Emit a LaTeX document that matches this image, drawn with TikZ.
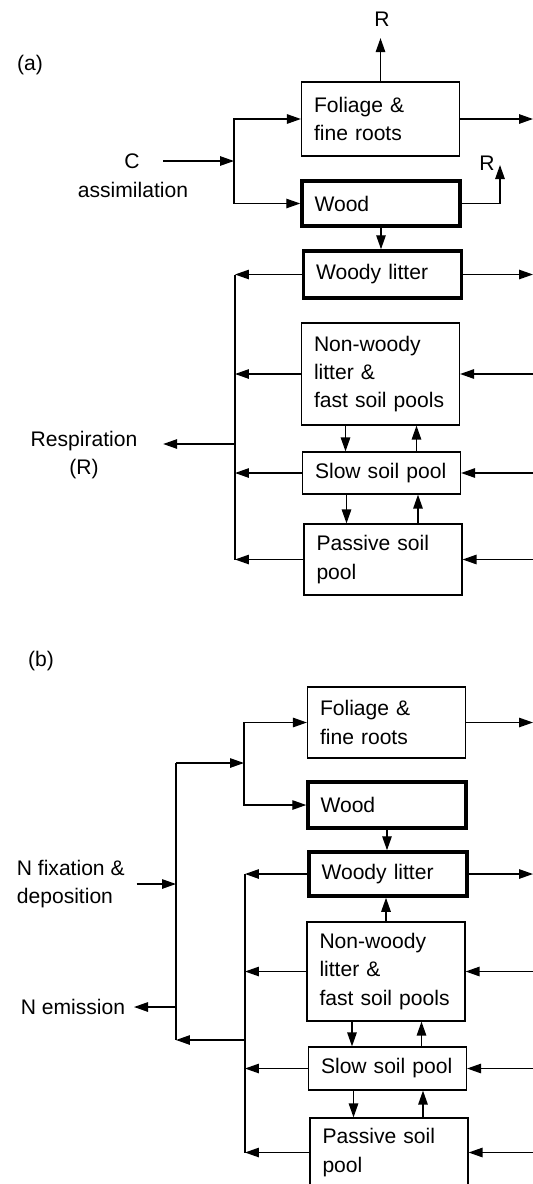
\documentclass[tikz,border=0pt]{standalone}
\usepackage{fontspec}
\setmainfont{Liberation Sans}
\usetikzlibrary{arrows.meta}

\begin{document}
\begin{tikzpicture}[x=0.02cm, y=-0.02cm]
		\tikzset{
			every node/.style={
				font=\fontsize{12}{16}\selectfont,
				inner sep=2pt
			},
			pool/.style={
				draw,
				rectangle,
				line width=0.7pt,
				align=left,
				text width=2.66cm,
				inner xsep=0.25cm,
				inner ysep=0pt
			},
			woody/.style={
				pool,
				line width=2pt
			},
			line/.style={
				-{Triangle[length=0.28cm, width=0.19cm]},
				line width=0.75pt
			},
			wire/.style={
				line width=0.75pt
			}
		}

		\useasboundingbox (0, 0) rectangle (532, 1184);

		\coordinate (rim) at (533, 0);

		\node (tag-a) at (30, 65)
			{(a)};
		\node[pool, minimum height=1.48cm] (fol-a) at (380.5, 119)
			{Foliage \&\\fine roots};
		\node[woody, minimum height=0.9cm] (wood-a) at (381, 203.5)
			{Wood};
		\node[woody, minimum height=0.94cm] (wlit-a) at (382.5, 274.5)
			{Woody litter};
		\node[pool, minimum height=2.04cm] (nw-a) at (380.5, 374)
			{Non-woody\\litter \&\\fast soil pools};
		\node[pool, minimum height=0.84cm] (slow-a) at (381.5, 473)
			{Slow soil pool};
		\node[pool, minimum height=1.42cm] (pas-a) at (383, 559.5)
			{Passive soil\\pool};

		\node (r1-a) at (382, 19)
			{R};
		\node (r2-a) at (487, 163)
			{R};
		\node (c-a) at (132, 161)
			{C};
		\node (assim-a) at (133, 190)
			{assimilation};
		\node[align=center] (resp-a) at (84, 455)
			{Respiration\\(R)};

		\coordinate (jc-a) at (234, 161);
		\coordinate (rtip-a) at (500, 165);
		\coordinate (col-a) at (235, 444);

		\draw[line, shorten >=0.16cm] (fol-a.north) -- (fol-a.north |- r1-a.south);
		\draw[line] (fol-a) -- (fol-a -| rim);

		\draw[line, shorten <=0.4cm] (c-a) -- (jc-a);
		\draw[line] (jc-a) |- (fol-a);
		\draw[line] (jc-a) |- (wood-a);
		\draw[line] (wood-a) -| (rtip-a);
		\draw[line] (wood-a.south) -- (wood-a.south |- wlit-a.north);

		\draw[line] (wlit-a) -- (wlit-a -| rim);
		\draw[line] (wlit-a) -- (wlit-a -| col-a);
		\draw[line] (nw-a) -- (nw-a -| col-a);
		\draw[line] (slow-a) -- (slow-a -| col-a);
		\draw[line] (pas-a) -- (pas-a -| col-a);
		\draw[wire] (wlit-a -| col-a) -- (pas-a -| col-a);
		\draw[line, shorten >=0.44cm] (col-a) -- (col-a -| resp-a.east);

		\draw[line] (nw-a -| rim) -- (nw-a);
		\draw[line] (slow-a -| rim) -- (slow-a);
		\draw[line] (pas-a -| rim) -- (pas-a);

		\draw[line] ([xshift=-0.7cm]nw-a.south) -- ([xshift=-0.7cm]nw-a.south |- slow-a.north);
		\draw[line] ([xshift=0.7cm]slow-a.north) -- ([xshift=0.7cm]slow-a.north |- nw-a.south);
		\draw[line] ([xshift=-0.7cm]slow-a.south) -- ([xshift=-0.7cm]slow-a.south |- pas-a.north);
		\draw[line] ([xshift=0.7cm]pas-a.north) -- ([xshift=0.7cm]pas-a.north |- slow-a.south);

		\node (tag-b) at (41, 661)
			{(b)};
		\node[pool, minimum height=1.42cm] (fol-b) at (386.5, 722.5)
			{Foliage \&\\fine roots};
		\node[woody, minimum height=0.92cm] (wood-b) at (387, 805)
			{Wood};
		\node[woody, minimum height=0.88cm] (wlit-b) at (388, 874)
			{Woody litter};
		\node[pool, minimum height=1.98cm] (nw-b) at (386, 971.5)
			{Non-woody\\litter \&\\fast soil pools};
		\node[pool, minimum height=0.86cm] (slow-b) at (387.5, 1068.5)
			{Slow soil pool};
		\node[pool, minimum height=1.38cm] (pas-b) at (389, 1152.5)
			{Passive soil\\pool};

		\node[anchor=west, align=left] (nfix-b) at (13, 884)
			{N fixation \&\\deposition};
		\node (nemis-b) at (73, 1007)
			{N emission};

		\coordinate (jc-b) at (244, 763);
		\coordinate (top-b) at (176, 763);
		\coordinate (col-b) at (245, 1040);
		\coordinate (bot-b) at (176, 1040);

		\draw[line] (top-b) -- (jc-b);
		\draw[line] (jc-b) |- (fol-b);
		\draw[line] (jc-b) |- (wood-b);
		\draw[wire] (top-b) -- (bot-b);
		\draw[line, shorten <=0.16cm] (nfix-b) -- (nfix-b -| top-b);
		\draw[line, shorten >=0.1cm] (nemis-b -| top-b) -- (nemis-b);
		\draw[line] (col-b) -- (bot-b);

		\draw[line] (fol-b) -- (fol-b -| rim);
		\draw[line] (wood-b.south) -- (wood-b.south |- wlit-b.north);
		\draw[line] (nw-b.north) -- (nw-b.north |- wlit-b.south);

		\draw[line] (wlit-b) -- (wlit-b -| rim);
		\draw[line] (wlit-b) -- (wlit-b -| col-b);
		\draw[line] (nw-b) -- (nw-b -| col-b);
		\draw[line] (slow-b) -- (slow-b -| col-b);
		\draw[line] (pas-b) -- (pas-b -| col-b);
		\draw[wire] (wlit-b -| col-b) -- (pas-b -| col-b);

		\draw[line] (nw-b -| rim) -- (nw-b);
		\draw[line] (slow-b -| rim) -- (slow-b);
		\draw[line] (pas-b -| rim) -- (pas-b);

		\draw[line] ([xshift=-0.68cm]nw-b.south) -- ([xshift=-0.68cm]nw-b.south |- slow-b.north);
		\draw[line] ([xshift=0.68cm]slow-b.north) -- ([xshift=0.68cm]slow-b.north |- nw-b.south);
		\draw[line] ([xshift=-0.68cm]slow-b.south) -- ([xshift=-0.68cm]slow-b.south |- pas-b.north);
		\draw[line] ([xshift=0.68cm]pas-b.north) -- ([xshift=0.68cm]pas-b.north |- slow-b.south);

	\end{tikzpicture}
\end{document}
